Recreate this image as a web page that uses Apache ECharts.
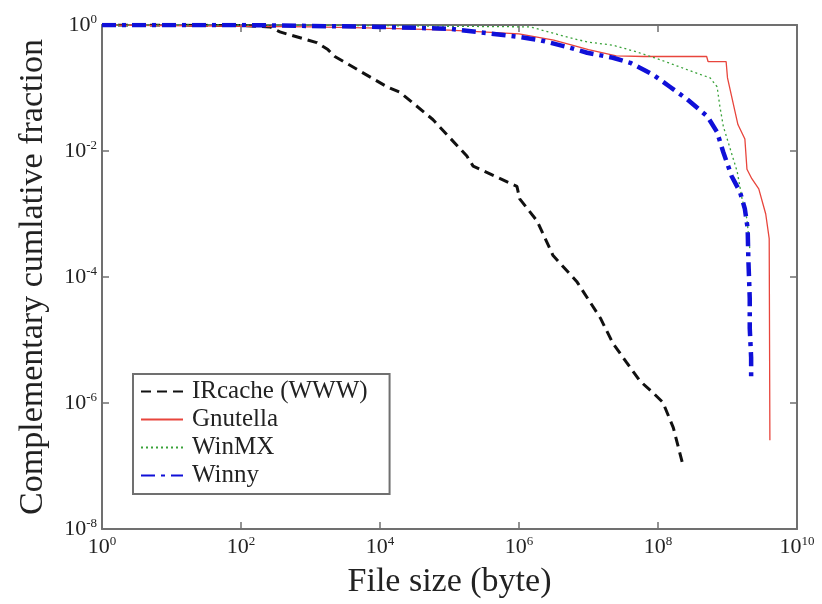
<!DOCTYPE html>
<html>
<head>
<meta charset="utf-8">
<script src="https://cdn.jsdelivr.net/npm/echarts@6/dist/echarts.min.js"></script>
<style>
  html, body { margin: 0; padding: 0; background: #fff; }
  #chart { width: 822px; height: 604px; }
</style>
</head>
<body>
<div id="chart"></div>
<script>
// Complementary cumulative distribution of file sizes.
// Every point is an exponent pair: [log10(file size in bytes), log10(fraction)].
const xTickExponents = [0, 2, 4, 6, 8, 10];
const yTickExponents = [-8, -6, -4, -2, 0];

const seriesNames = ['IRcache (WWW)', 'Gnutella', 'WinMX', 'Winny'];

const ircache = [
  [0, 0], [1, 0], [2, -0.01], [2.42, -0.03], [2.56, -0.11], [3.09, -0.28],
  [3.25, -0.39], [3.35, -0.50], [4.10, -0.98], [4.29, -1.07], [4.76, -1.50],
  [5.25, -2.08], [5.34, -2.24], [5.73, -2.44], [5.97, -2.56], [6.01, -2.76],
  [6.26, -3.11], [6.49, -3.66], [6.83, -4.07], [7.17, -4.65], [7.35, -5.05],
  [7.55, -5.36], [7.74, -5.65], [7.93, -5.84], [8.07, -5.99], [8.22, -6.39],
  [8.36, -6.99]
];

const gnutella = [
  [0, 0], [3, -0.03], [4, -0.05], [5, -0.08], [6, -0.14], [6.5, -0.24],
  [7, -0.39], [7.4, -0.49], [7.8, -0.50], [8.7, -0.50], [8.72, -0.58],
  [8.98, -0.58], [9.0, -0.84], [9.15, -1.58], [9.25, -1.81], [9.28, -2.29],
  [9.35, -2.44], [9.45, -2.60], [9.55, -3.0], [9.6, -3.39], [9.61, -6.59]
];

const winmx = [
  [0, 0], [2, 0], [4, -0.01], [5, -0.02], [6.16, -0.03], [6.59, -0.16],
  [6.98, -0.27], [7.35, -0.32], [7.70, -0.43], [8.03, -0.55], [8.42, -0.71],
  [8.75, -0.84], [8.85, -0.98], [8.89, -1.29], [8.94, -1.61], [9.04, -1.97],
  [9.14, -2.33], [9.21, -2.76], [9.28, -3.08], [9.32, -3.55]
];

const winny = [
  [0, 0], [2, 0], [4, -0.03], [5, -0.06], [6.01, -0.19], [6.30, -0.24],
  [6.73, -0.36], [6.98, -0.44], [7.35, -0.52], [7.60, -0.60], [7.93, -0.79],
  [8.17, -0.98], [8.42, -1.18], [8.71, -1.45], [8.85, -1.70], [8.94, -2.02],
  [9.06, -2.40], [9.18, -2.65], [9.25, -2.92], [9.29, -3.23], [9.30, -3.71],
  [9.32, -4.34], [9.32, -4.81], [9.34, -5.28], [9.34, -5.63]
];

const serif = '"Liberation Serif", "DejaVu Serif", serif';
const frameColor = '#707070';

const powerLabel = {
  fontFamily: serif,
  color: '#222',
  formatter: v => '{b|10}{s|' + v + '}',
  rich: {
    b: { fontFamily: serif, fontSize: 22, color: '#222', lineHeight: 24 },
    s: { fontFamily: serif, fontSize: 13, color: '#222', verticalAlign: 'top', lineHeight: 12 }
  }
};

const frameLine = { show: true, onZero: false, lineStyle: { color: frameColor, width: 2 } };
const innerTick = { show: true, inside: true, length: 7, lineStyle: { color: frameColor, width: 1.5 } };

const chart = echarts.init(document.getElementById('chart'), null, { renderer: 'canvas' });

chart.setOption({
  backgroundColor: '#fff',
  animation: false,
  grid: { left: 102, right: 25, top: 25, bottom: 72, containLabel: false },
  xAxis: [
    {
      type: 'value', position: 'bottom',
      min: xTickExponents[0], max: xTickExponents[xTickExponents.length - 1], interval: 2,
      name: 'File size (byte)', nameLocation: 'middle', nameGap: 36,
      nameTextStyle: { fontFamily: serif, fontSize: 34, color: '#222' },
      axisLine: frameLine, axisTick: innerTick, splitLine: { show: false },
      axisLabel: Object.assign({ margin: 6 }, powerLabel)
    },
    {
      type: 'value', position: 'top', min: 0, max: 10, interval: 2,
      axisLine: frameLine, axisTick: innerTick, splitLine: { show: false },
      axisLabel: { show: false }
    }
  ],
  yAxis: [
    {
      type: 'value', position: 'left',
      min: yTickExponents[0], max: yTickExponents[yTickExponents.length - 1], interval: 2,
      name: 'Complementary cumlative fraction', nameLocation: 'middle', nameGap: 52,
      nameTextStyle: { fontFamily: serif, fontSize: 34, color: '#222' },
      axisLine: frameLine, axisTick: innerTick, splitLine: { show: false },
      axisLabel: Object.assign({ margin: 5 }, powerLabel)
    },
    {
      type: 'value', position: 'right', min: -8, max: 0, interval: 2,
      axisLine: frameLine, axisTick: innerTick, splitLine: { show: false },
      axisLabel: { show: false }
    }
  ],
  legend: {
    orient: 'vertical', left: 133, top: 374,
    padding: [5, 22, 6, 7], itemGap: 3, itemWidth: 42, itemHeight: 20,
    borderColor: frameColor, borderWidth: 2, backgroundColor: '#fff',
    itemStyle: { opacity: 0 },
    textStyle: { fontFamily: serif, fontSize: 25, color: '#222', padding: [0, 0, 0, 4] },
    data: seriesNames
  },
  series: [
    {
      name: seriesNames[0], type: 'line', data: ircache, showSymbol: false, symbol: 'none',
      lineStyle: { color: '#111', width: 3, type: [10, 6] }, itemStyle: { color: '#111' }
    },
    {
      name: seriesNames[1], type: 'line', data: gnutella, showSymbol: false, symbol: 'none',
      lineStyle: { color: '#e8453c', width: 1.3 }, itemStyle: { color: '#e8453c' }
    },
    {
      name: seriesNames[2], type: 'line', data: winmx, showSymbol: false, symbol: 'none',
      lineStyle: { color: '#3aa23a', width: 1.3, type: [2, 3] }, itemStyle: { color: '#3aa23a' }
    },
    {
      name: seriesNames[3], type: 'line', data: winny, showSymbol: false, symbol: 'none',
      lineStyle: { color: '#1010d8', width: 4.5, type: [14, 6, 4, 6] }, itemStyle: { color: '#1010d8' }
    }
  ]
});
</script>
</body>
</html>
